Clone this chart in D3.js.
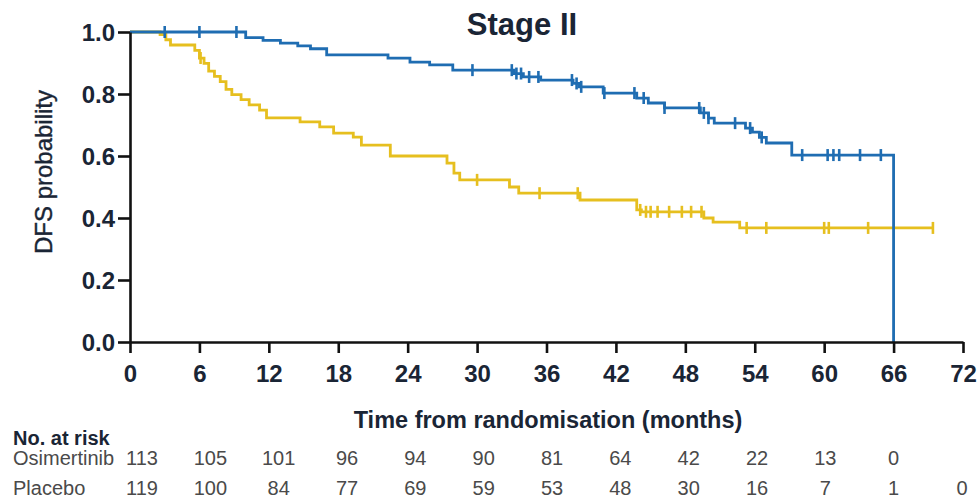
<!DOCTYPE html>
<html>
<head>
<meta charset="utf-8">
<script src="https://cdn.jsdelivr.net/npm/d3@7"></script>
<style>
  body { margin: 0; background: #fff; }
  svg { display: block; }
</style>
</head>
<body>
<div id="chart"></div>
<script>
// Osimertinib KM steps (months, survival after event), censor times
var osiTimes = [0, 10.0, 11.5, 13.0, 14.5, 15.6, 17.0, 22.3, 24.2, 25.9, 27.9, 33.2, 34.0, 35.5, 38.3, 38.8, 40.9, 43.8, 44.8, 46.2, 49.3, 50.0, 50.5, 53.2, 53.8, 54.4, 55.0, 57.2, 66.0]
var osiSurv  = [1.0, 0.982, 0.973, 0.964, 0.955, 0.946, 0.926, 0.916, 0.903, 0.894, 0.877, 0.866, 0.855, 0.845, 0.834, 0.823, 0.803, 0.787, 0.771, 0.755, 0.739, 0.722, 0.706, 0.690, 0.677, 0.660, 0.642, 0.603, 0.0]
var osiCensor = [3.0, 6.0, 9.2, 29.6, 33.0, 33.4, 33.8, 34.5, 35.3, 38.2, 38.6, 39.0, 41.0, 43.6, 44.4, 46.2, 49.2, 49.6, 50.0, 52.3, 53.6, 54.6, 58.1, 60.3, 60.8, 61.3, 63.1, 64.9]

// Placebo KM steps
var plaTimes = [0, 2.6, 3.1, 3.5, 5.6, 6.0, 6.4, 6.8, 7.3, 7.8, 8.3, 8.8, 9.6, 10.3, 11.2, 11.8, 14.7, 16.4, 17.6, 19.3, 20.0, 22.5, 27.4, 28.0, 28.5, 32.8, 33.6, 38.9, 43.8, 44.2, 49.6, 50.4, 52.7, 69.4]
var plaSurv  = [1.0, 0.992, 0.975, 0.958, 0.941, 0.916, 0.899, 0.874, 0.857, 0.840, 0.815, 0.798, 0.782, 0.765, 0.748, 0.723, 0.710, 0.694, 0.674, 0.661, 0.635, 0.600, 0.577, 0.545, 0.523, 0.500, 0.480, 0.458, 0.426, 0.420, 0.400, 0.387, 0.368, 0.368]
var plaCensor = [6.1, 30.0, 35.4, 38.7, 44.1, 44.6, 45.0, 45.6, 46.6, 47.7, 48.5, 49.4, 53.3, 55.0, 60.0, 60.4, 63.8, 69.4]

// axes and risk table
var xTicks = [0, 6, 12, 18, 24, 30, 36, 42, 48, 54, 60, 66, 72]
var yTicks = [0, 0.2, 0.4, 0.6, 0.8, 1.0]
var osiRisk = [113, 105, 101, 96, 94, 90, 81, 64, 42, 22, 13, 0]
var plaRisk = [119, 100, 84, 77, 69, 59, 53, 48, 30, 16, 7, 1, 0]

var width = 980, height = 499
var ink = "#1a2535"
var sans = "'Liberation Sans', Arial, sans-serif"

var svg = d3.select("#chart").append("svg")
    .attr("width", width).attr("height", height)

var x = d3.scaleLinear().domain([0, 72]).range([130, 963])
var y = d3.scaleLinear().domain([0, 1]).range([342, 32])
var xt = d3.scaleLinear().domain([0, 72]).range([142, 962])  // risk table columns

// title
svg.append("text")
    .attr("x", 522).attr("y", 35)
    .attr("text-anchor", "middle")
    .attr("font-family", sans).attr("font-weight", "bold")
    .attr("font-size", 31).attr("fill", ink)
    .text("Stage II")

function survAt(times, surv, t) {
    var s = surv[0]
    for (var i = 0; i < times.length; i++) { if (times[i] <= t) s = surv[i] }
    return s
}

var line = d3.line()
    .x(function(d) { return x(d[0]) })
    .y(function(d) { return y(d[1]) })
    .curve(d3.curveStepAfter)

var series = [
    { times: plaTimes, surv: plaSurv, censor: plaCensor, color: "#e6bf1f" },
    { times: osiTimes, surv: osiSurv, censor: osiCensor, color: "#1f6db2" }
]

series.forEach(function(s) {
    svg.append("path")
        .datum(s.times.map(function(t, i) { return [t, s.surv[i]] }))
        .attr("fill", "none")
        .attr("stroke", s.color)
        .attr("stroke-width", 2.8)
        .attr("d", line)

    svg.append("g").selectAll("line")
        .data(s.censor)
        .enter().append("line")
        .attr("x1", function(d) { return x(d) })
        .attr("x2", function(d) { return x(d) })
        .attr("y1", function(d) { return y(survAt(s.times, s.surv, d)) - 6 })
        .attr("y2", function(d) { return y(survAt(s.times, s.surv, d)) + 6 })
        .attr("stroke", s.color)
        .attr("stroke-width", 2.6)
})

// axes
var yAxis = svg.append("g")
    .attr("transform", "translate(130,0)")
    .call(d3.axisLeft(y).tickValues(yTicks).tickFormat(d3.format(".1f"))
        .tickSize(12).tickSizeOuter(0).tickPadding(3))
var xAxis = svg.append("g")
    .attr("transform", "translate(0,342)")
    .call(d3.axisBottom(x).tickValues(xTicks).tickFormat(d3.format("d"))
        .tickSize(11).tickSizeOuter(0).tickPadding(12))

;[yAxis, xAxis].forEach(function(a) {
    a.select(".domain").attr("stroke", "#111").attr("stroke-width", 2.6)
    a.selectAll(".tick line").attr("stroke", "#111").attr("stroke-width", 2.6)
    a.selectAll(".tick text")
        .attr("font-family", sans).attr("font-weight", "bold")
        .attr("font-size", 24).attr("fill", ink)
})
yAxis.selectAll(".tick text").attr("dy", "0.36em")
xAxis.selectAll(".tick text").attr("dy", "0.72em")

// axis titles
svg.append("text")
    .attr("transform", "translate(52,172) rotate(-90)")
    .attr("text-anchor", "middle")
    .attr("font-family", sans).attr("font-size", 24)
    .attr("fill", ink).attr("stroke", ink).attr("stroke-width", 0.4)
    .text("DFS probability")

svg.append("text")
    .attr("x", 548).attr("y", 428)
    .attr("text-anchor", "middle")
    .attr("font-family", sans).attr("font-weight", "bold")
    .attr("font-size", 23.5).attr("fill", ink)
    .text("Time from randomisation (months)")

// risk table
svg.append("text")
    .attr("x", 13).attr("y", 445)
    .attr("font-family", sans).attr("font-weight", "bold")
    .attr("font-size", 20).attr("fill", ink)
    .text("No. at risk")

var rows = [
    { name: "Osimertinib", values: osiRisk, y: 465 },
    { name: "Placebo", values: plaRisk, y: 495 }
]
rows.forEach(function(r) {
    svg.append("text")
        .attr("x", 13).attr("y", r.y)
        .attr("font-family", sans).attr("font-size", 20)
        .attr("fill", "#4a4a4a")
        .text(r.name)
    svg.append("g").selectAll("text")
        .data(r.values)
        .enter().append("text")
        .attr("x", function(d, i) { return xt(xTicks[i]) })
        .attr("y", r.y)
        .attr("text-anchor", "middle")
        .attr("font-family", sans).attr("font-size", 20)
        .attr("fill", "#4a4a4a")
        .text(function(d) { return d })
})
</script>
</body>
</html>
